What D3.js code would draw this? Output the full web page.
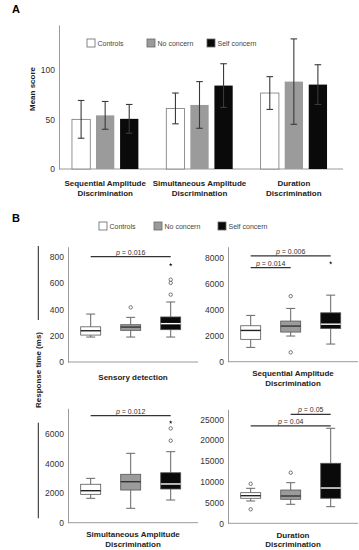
<!DOCTYPE html>
<html>
<head>
<meta charset="utf-8">
<script src="https://cdn.jsdelivr.net/npm/d3@7"></script>
<style>
  html, body { margin: 0; padding: 0; background: #fff; }
  svg { display: block; font-family: "Liberation Sans", Arial, sans-serif; }
</style>
</head>
<body>
<svg id="chart" width="359" height="550"></svg>
<script>
// ---------- DATA ----------
const seriesNames = ["Controls", "No concern", "Self concern"];

// Panel A
const categoriesA = [["Sequential Amplitude", "Discrimination"], ["Simultaneous Amplitude", "Discrimination"], ["Duration", "Discrimination"]];
const meanControls = [50, 61, 76.5];
const meanNoConcern = [54, 64.5, 88];
const meanSelfConcern = [50.5, 84, 85];
const sdControls = [19, 15.5, 16.5];
const sdNoConcern = [14, 23.5, 43];
const sdSelfConcern = [14.5, 22, 20];
const ticksA = [0, 50, 100];

// Panel B : box stats [min, q1, median, q3, max]
const panelTitles = [["Sensory detection"], ["Sequential Amplitude", "Discrimination"], ["Simultaneous Amplitude", "Discrimination"], ["Duration", "Discrimination"]];
const sensoryBoxes = [[190, 205, 238, 268, 365], [190, 241, 266, 284, 340], [190, 246, 292, 343, 457]];
const sensoryOutliers = [[], [416], [513, 602, 627]];
const sensoryExtremes = [[], [], [741]];
const sensoryTicks = [0, 200, 400, 600, 800];

const sequentialBoxes = [[1100, 1716, 2400, 2760, 3555], [1970, 2275, 2735, 3120, 4090], [1355, 2545, 2880, 3755, 5110]];
const sequentialOutliers = [[], [5030, 720], []];
const sequentialExtremes = [[], [], [7590]];
const sequentialTicks = [0, 2000, 4000, 6000, 8000];

const simultaneousBoxes = [[1650, 1920, 2165, 2600, 3000], [975, 2210, 2775, 3275, 4695], [1535, 2280, 2620, 3380, 4805]];
const simultaneousOutliers = [[], [], [5550, 6380]];
const simultaneousExtremes = [[], [], [6800]];
const simultaneousTicks = [0, 2000, 4000, 6000];

const durationBoxes = [[5360, 6010, 6640, 7360, 8410], [4570, 5770, 6560, 8000, 9760], [3990, 6010, 8480, 14420, 22840]];
const durationOutliers = [[9500, 3365], [12160], []];
const durationExtremes = [[], [], []];
const durationTicks = [0, 5000, 10000, 15000, 20000, 25000];

// significance: [fromGroup, toGroup, level, label]
const sensorySig = [[0, 2, 802, "0.016"]];
const sequentialSig = [[0, 2, 8120, "0.006"], [0, 1, 7220, "0.014"]];
const simultaneousSig = [[0, 2, 7240, "0.012"]];
const durationSig = [[1, 2, 26200, "0.05"], [0, 2, 23440, "0.04"]];

// ---------- DRAW ----------
const svg = d3.select("#chart");
const colors = { "Controls": "#ffffff", "No concern": "#9b9b9b", "Self concern": "#0a0a0a" };
const medianColors = { "Controls": "#222", "No concern": "#333", "Self concern": "#ffffff" };
const axisColor = "#9a9a9a";
const tickColor = "#333";

// Panel labels
svg.append("text").attr("x", 12).attr("y", 13).attr("font-size", 11).attr("font-weight", "bold").text("A");
svg.append("text").attr("x", 12).attr("y", 222).attr("font-size", 11).attr("font-weight", "bold").text("B");

// Legend helper
function legend(items) {
  items.forEach(it => {
    svg.append("rect").attr("x", it.x).attr("y", it.y).attr("width", 8).attr("height", 8)
      .attr("fill", colors[it.name]).attr("stroke", "#666").attr("stroke-width", 0.8);
    svg.append("text").attr("x", it.x + 10.5).attr("y", it.y + 6.8).attr("font-size", 7).attr("fill", "#444").text(it.name);
  });
}

// ---------- Panel A ----------
const yA = d3.scaleLinear().domain([0, 145]).range([169, 25]);
const xA = d3.scaleBand().domain(d3.range(categoriesA.length)).range([58, 341]);
const xInner = d3.scaleBand().domain(seriesNames).range([-33.2, 33.2]).paddingInner(0.24);

const gAy = svg.append("g").attr("transform", "translate(59,0)")
  .call(d3.axisLeft(yA).tickValues(ticksA).tickSize(0).tickSizeOuter(0).tickPadding(4));
gAy.select(".domain").attr("stroke", axisColor);
gAy.selectAll("text").attr("font-size", 8.5).attr("fill", tickColor).attr("font-family", "Liberation Sans, Arial, sans-serif");

svg.append("line").attr("x1", 59).attr("x2", 343).attr("y1", yA(0)).attr("y2", yA(0)).attr("stroke", axisColor);

const meansA = [meanControls, meanNoConcern, meanSelfConcern];
const sdsA = [sdControls, sdNoConcern, sdSelfConcern];
seriesNames.forEach((s, si) => {
  categoriesA.forEach((c, gi) => {
    const cx = xA(gi) + xA.bandwidth() / 2;
    const m = meansA[si][gi], sd = sdsA[si][gi];
    const bx = cx + xInner(s);
    svg.append("rect").attr("x", bx).attr("y", yA(m)).attr("width", xInner.bandwidth())
      .attr("height", yA(0) - yA(m)).attr("fill", colors[s])
      .attr("stroke", si === 0 ? "#777" : "none").attr("stroke-width", 0.8);
    const ex = bx + xInner.bandwidth() / 2;
    const eg = svg.append("g").attr("stroke", "#3a3a3a").attr("stroke-width", 1.1);
    eg.append("line").attr("x1", ex).attr("x2", ex).attr("y1", yA(m - sd)).attr("y2", yA(m + sd));
    eg.append("line").attr("x1", ex - 3.3).attr("x2", ex + 3.3).attr("y1", yA(m + sd)).attr("y2", yA(m + sd));
    eg.append("line").attr("x1", ex - 3.3).attr("x2", ex + 3.3).attr("y1", yA(m - sd)).attr("y2", yA(m - sd));
  });
});
categoriesA.forEach((c, gi) => {
  const cx = xA(gi) + xA.bandwidth() / 2;
  const t = svg.append("text").attr("text-anchor", "middle").attr("font-size", 8).attr("font-weight", "bold").attr("fill", "#222");
  c.forEach((line, li) => t.append("tspan").attr("x", cx).attr("y", 186 + li * 10).text(line));
});
svg.append("text").attr("transform", "translate(35,89) rotate(-90)").attr("text-anchor", "middle")
  .attr("font-size", 8).attr("font-weight", "bold").attr("fill", "#222").text("Mean score");

legend([{ name: "Controls", x: 87, y: 39 }, { name: "No concern", x: 147, y: 39 }, { name: "Self concern", x: 207, y: 39 }]);

// ---------- Panel B ----------
legend([{ name: "Controls", x: 99, y: 222 }, { name: "No concern", x: 154, y: 222 }, { name: "Self concern", x: 218, y: 222 }]);

const panels = [
  { x0: 68, top: 246.7, bottom: 362, max: 878, ticks: sensoryTicks, boxes: sensoryBoxes, out: sensoryOutliers, ext: sensoryExtremes, sig: sensorySig, title: panelTitles[0] },
  { x0: 228, top: 246.7, bottom: 361.7, max: 8830, ticks: sequentialTicks, boxes: sequentialBoxes, out: sequentialOutliers, ext: sequentialExtremes, sig: sequentialSig, title: panelTitles[1] },
  { x0: 68, top: 408.3, bottom: 522.7, max: 7740, ticks: simultaneousTicks, boxes: simultaneousBoxes, out: simultaneousOutliers, ext: simultaneousExtremes, sig: simultaneousSig, title: panelTitles[2] },
  { x0: 228, top: 409.3, bottom: 523.3, max: 27400, ticks: durationTicks, boxes: durationBoxes, out: durationOutliers, ext: durationExtremes, sig: durationSig, title: panelTitles[3] }
];

panels.forEach(p => {
  const y = d3.scaleLinear().domain([0, p.max]).range([p.bottom, p.top]);
  const x = d3.scalePoint().domain(seriesNames).range([p.x0 + 22.7, p.x0 + 102.7]);
  const gy = svg.append("g").attr("transform", `translate(${p.x0},0)`)
    .call(d3.axisLeft(y).tickValues(p.ticks).tickSize(0).tickSizeOuter(0).tickPadding(4).tickFormat(d3.format("d")));
  gy.select(".domain").attr("stroke", axisColor);
  gy.selectAll("text").attr("font-size", 8.5).attr("fill", tickColor).attr("font-family", "Liberation Sans, Arial, sans-serif");
  svg.append("line").attr("x1", p.x0).attr("x2", p.x0 + 130).attr("y1", y(0)).attr("y2", y(0)).attr("stroke", axisColor);

  const bw = 20, cap = 4.5;
  seriesNames.forEach((s, i) => {
    const [mn, q1, md, q3, mx] = p.boxes[i];
    const cx = x(s);
    const g = svg.append("g");
    g.append("line").attr("x1", cx).attr("x2", cx).attr("y1", y(mx)).attr("y2", y(q3)).attr("stroke", "#666");
    g.append("line").attr("x1", cx).attr("x2", cx).attr("y1", y(q1)).attr("y2", y(mn)).attr("stroke", "#666");
    g.append("line").attr("x1", cx - cap).attr("x2", cx + cap).attr("y1", y(mx)).attr("y2", y(mx)).attr("stroke", "#666");
    g.append("line").attr("x1", cx - cap).attr("x2", cx + cap).attr("y1", y(mn)).attr("y2", y(mn)).attr("stroke", "#666");
    g.append("rect").attr("x", cx - bw / 2).attr("y", y(q3)).attr("width", bw).attr("height", y(q1) - y(q3))
      .attr("fill", colors[s]).attr("stroke", "#555").attr("stroke-width", 0.8);
    g.append("line").attr("x1", cx - bw / 2).attr("x2", cx + bw / 2).attr("y1", y(md)).attr("y2", y(md))
      .attr("stroke", medianColors[s]).attr("stroke-width", 1.4);
    p.out[i].forEach(v => g.append("circle").attr("cx", cx).attr("cy", y(v)).attr("r", 1.7)
      .attr("fill", "#fff").attr("stroke", "#555").attr("stroke-width", 0.8));
    p.ext[i].forEach(v => g.append("path").attr("transform", `translate(${cx},${y(v)})`)
      .attr("d", d3.symbol(d3.symbolStar, 4)()).attr("fill", "#222"));
  });

  p.sig.forEach(([a, b, lvl, lab]) => {
    const x1 = x(seriesNames[a]), x2 = x(seriesNames[b]), yy = y(lvl);
    svg.append("line").attr("x1", x1).attr("x2", x2).attr("y1", yy).attr("y2", yy).attr("stroke", "#333").attr("stroke-width", 1.2);
    const t = svg.append("text").attr("x", (x1 + x2) / 2).attr("y", yy - 2).attr("text-anchor", "middle")
      .attr("font-size", 7).attr("fill", "#333");
    t.append("tspan").attr("font-style", "italic").text("p");
    t.append("tspan").text(" = " + lab);
  });

  const tt = svg.append("text").attr("text-anchor", "middle").attr("font-size", 8).attr("font-weight", "bold").attr("fill", "#222");
  const cx = p.x0 + 65;
  if (p.title.length === 1) {
    tt.append("tspan").attr("x", cx).attr("y", y(0) + 18).text(p.title[0]);
  } else {
    p.title.forEach((line, li) => tt.append("tspan").attr("x", cx).attr("y", y(0) + 14.3 + li * 9.7).text(line));
  }
});

// shared y label with side rules
svg.append("line").attr("x1", 38.3).attr("x2", 38.3).attr("y1", 246).attr("y2", 320).attr("stroke", "#222");
svg.append("line").attr("x1", 38.3).attr("x2", 38.3).attr("y1", 422.7).attr("y2", 518.3).attr("stroke", "#222");
svg.append("text").attr("transform", "translate(40.7,370) rotate(-90)").attr("text-anchor", "middle")
  .attr("font-size", 8).attr("font-weight", "bold").attr("fill", "#222").text("Response time (ms)");
</script>
</body>
</html>
